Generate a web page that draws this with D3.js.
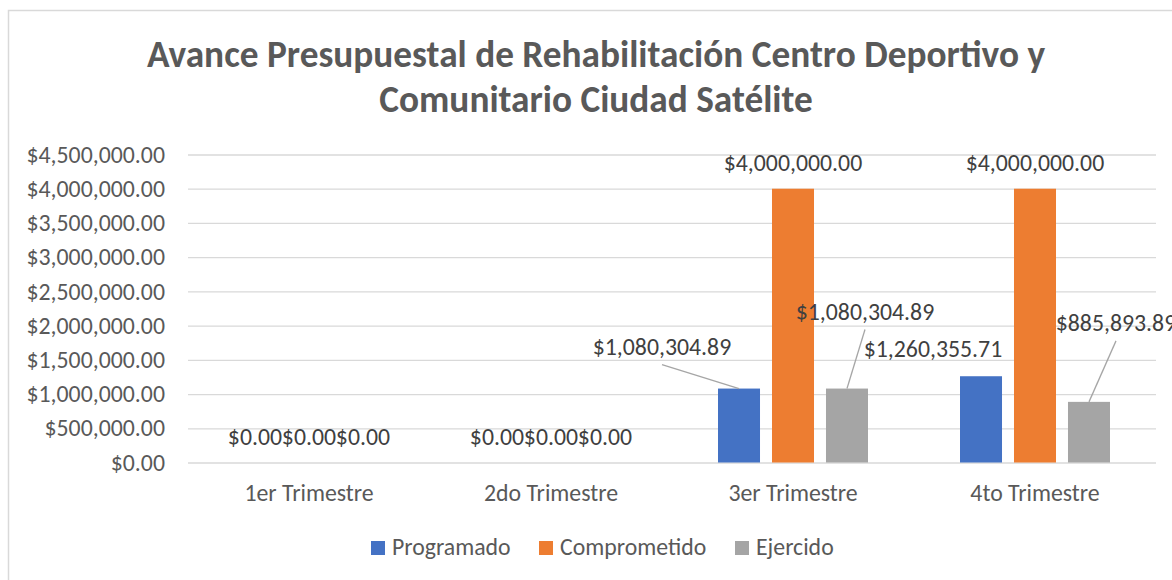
<!DOCTYPE html>
<html>
<head>
<meta charset="utf-8">
<script src="https://cdn.jsdelivr.net/npm/d3@7"></script>
<style>
  body { margin: 0; background: #fff; }
  text { font-family: Calibri, Carlito, "Open Sans", sans-serif; }
</style>
</head>
<body>
<svg id="chart" width="1172" height="580"></svg>
<script>
// data
var categories = ["1er Trimestre", "2do Trimestre", "3er Trimestre", "4to Trimestre"];
var seriesNames = ["Programado", "Comprometido", "Ejercido"];
var programado = [0, 0, 1080304.89, 1260355.71];
var comprometido = [0, 0, 4000000, 4000000];
var ejercido = [0, 0, 1080304.89, 885893.89];
var yTicks = [0, 500000, 1000000, 1500000, 2000000, 2500000, 3000000, 3500000, 4000000, 4500000];
var titleLines = ["Avance Presupuestal de Rehabilitación Centro Deportivo y", "Comunitario Ciudad Satélite"];

var colors = ["#4472C4", "#ED7D31", "#A5A5A5"];

// labels that were dragged away from their bars (category, series, dx, dy, leader)
var movedLabels = [
    {cat: 2, s: 0, dx: -77, dy: -16.5, leader: true},
    {cat: 2, s: 2, dx: 18, dy: -51.5, leader: true},
    {cat: 3, s: 0, dx: -48, dy: -1.5, leader: false},
    {cat: 3, s: 2, dx: 27, dy: -53.5, leader: true}
];

var svg = d3.select("#chart");
var fmt = d3.format("$,.2f");
var fontSize = 23.8;
var fontFamily = "Calibri, Carlito, 'Open Sans', sans-serif";

var plotLeft = 188, plotRight = 1156, plotTop = 154.5, plotBottom = 462.5;

// chart border
svg.append("rect")
    .attr("x", 8.5).attr("y", 10.5)
    .attr("width", 1200).attr("height", 600)
    .attr("fill", "#fff")
    .attr("stroke", "#D9D9D9")
    .attr("stroke-width", 1.5);

// title
var title = svg.append("text")
    .attr("text-anchor", "middle")
    .attr("font-weight", "bold")
    .attr("font-size", 37.3)
    .attr("fill", "#595959");
title.selectAll("tspan")
    .data(titleLines)
    .enter()
    .append("tspan")
    .attr("x", 596)
    .attr("y", function(d, i) { return 67 + i * 45; })
    .text(function(d) { return d; });

var x0 = d3.scaleBand()
    .domain(categories)
    .range([plotLeft, plotRight]);

var x1 = d3.scaleBand()
    .domain(seriesNames)
    .range([0, x0.bandwidth()])
    .paddingInner(0.222)
    .paddingOuter(0.852);

var y = d3.scaleLinear()
    .domain([0, 4500000])
    .range([plotBottom, plotTop]);

// gridlines + y labels
var yAxis = svg.append("g")
    .attr("transform", "translate(" + plotLeft + ",0)")
    .call(d3.axisLeft(y)
        .tickValues(yTicks)
        .tickFormat(fmt)
        .tickSize(-(plotRight - plotLeft))
        .tickPadding(23));
yAxis.select(".domain").remove();
yAxis.selectAll("line").attr("stroke", "#D9D9D9").attr("stroke-width", 1.3);
yAxis.selectAll("text")
    .attr("font-size", fontSize)
    .attr("font-family", fontFamily)
    .attr("fill", "#595959");

// category labels
var xAxis = svg.append("g")
    .attr("transform", "translate(0," + plotBottom + ")")
    .call(d3.axisBottom(x0).tickSize(0).tickPadding(21.5));
xAxis.select(".domain").remove();
xAxis.selectAll("text")
    .attr("font-size", fontSize)
    .attr("font-family", fontFamily)
    .attr("fill", "#595959");

var seriesValues = [programado, comprometido, ejercido];
var points = [];
categories.forEach(function(c, ci) {
    seriesNames.forEach(function(s, si) {
        points.push({cat: ci, s: si, value: seriesValues[si][ci]});
    });
});

function barX(d) { return x0(categories[d.cat]) + x1(seriesNames[d.s]); }
function barCenter(d) { return barX(d) + x1.bandwidth() / 2; }

svg.append("g")
    .selectAll("rect")
    .data(points.filter(function(d) { return d.value > 0; }))
    .enter()
    .append("rect")
    .attr("x", barX)
    .attr("y", function(d) { return y(d.value); })
    .attr("width", x1.bandwidth())
    .attr("height", function(d) { return y(0) - y(d.value); })
    .attr("fill", function(d) { return colors[d.s]; });

function moved(d) {
    return movedLabels.find(function(m) { return m.cat == d.cat && m.s == d.s; });
}
function labelX(d) {
    var m = moved(d);
    return barCenter(d) + (m ? m.dx : 0);
}
function labelY(d) {
    var m = moved(d);
    return y(d.value) - 17.5 + (m ? m.dy : 0);
}

// leader lines
svg.append("g")
    .selectAll("line")
    .data(points.filter(function(d) { var m = moved(d); return m && m.leader; }))
    .enter()
    .append("line")
    .attr("x1", labelX)
    .attr("y1", function(d) { return labelY(d) + 10; })
    .attr("x2", barCenter)
    .attr("y2", function(d) { return y(d.value); })
    .attr("stroke", "#A6A6A6")
    .attr("stroke-width", 1.3);

// data labels
svg.append("g")
    .selectAll("text")
    .data(points)
    .enter()
    .append("text")
    .attr("x", labelX)
    .attr("y", labelY)
    .attr("text-anchor", "middle")
    .attr("font-size", fontSize)
    .attr("fill", "#404040")
    .text(function(d) { return fmt(d.value); });

// legend
var legendX = [371, 539, 735];
var legend = svg.append("g")
    .selectAll("g")
    .data(seriesNames)
    .enter()
    .append("g")
    .attr("transform", function(d, i) { return "translate(" + legendX[i] + ",541)"; });
legend.append("rect")
    .attr("width", 14).attr("height", 14)
    .attr("fill", function(d, i) { return colors[i]; });
legend.append("text")
    .attr("x", 21)
    .attr("y", 13.5)
    .attr("font-size", fontSize)
    .attr("fill", "#595959")
    .text(function(d) { return d; });
</script>
</body>
</html>
